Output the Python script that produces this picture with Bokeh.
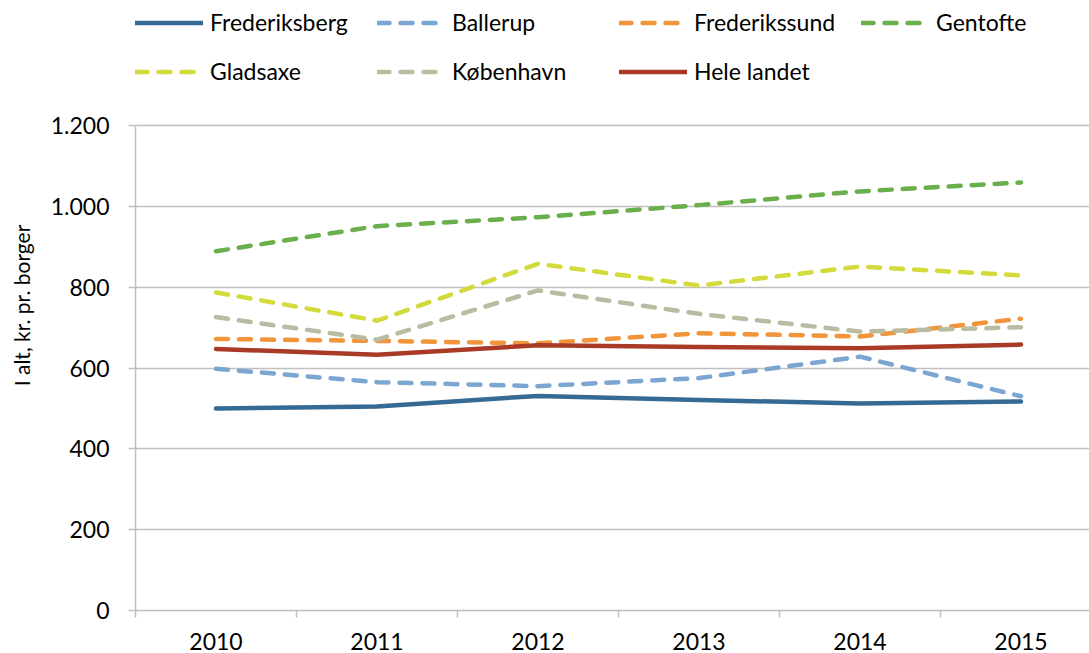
from bokeh.plotting import figure
from bokeh.models import Range1d, FixedTicker, Legend, LegendItem, ColumnDataSource
from bokeh.embed import file_html
from bokeh.resources import INLINE

years = ["2010", "2011", "2012", "2013", "2014", "2015"]
frederiksberg = [500, 505, 531, 521, 512, 517]
ballerup = [598, 565, 555, 575, 628, 530]
frederikssund = [672, 667, 661, 686, 678, 722]
gentofte = [889, 951, 973, 1003, 1037, 1059]
gladsaxe = [787, 717, 858, 804, 851, 829]
kobenhavn = [726, 670, 792, 734, 690, 701]
hele_landet = [647, 633, 656, 652, 649, 658]

series_names = ["Frederiksberg", "Ballerup", "Frederikssund", "Gentofte",
                "Gladsaxe", "København", "Hele landet"]
series_values = [frederiksberg, ballerup, frederikssund, gentofte,
                 gladsaxe, kobenhavn, hele_landet]
colors = ["#346a93", "#7ba6d1", "#f0953a", "#6aaf4b", "#d3da3c", "#b9bca3", "#a83a27"]
dashes = ["solid", "12 11", "12 11", "12 11", "12 11", "12 11", "solid"]

y_ticks = [0, 200, 400, 600, 800, 1000, 1200]
y_tick_labels = ["0", "200", "400", "600", "800", "1.000", "1.200"]

FONT = "Lato"
W, H = 1089, 653
LEFT, BOTTOM = 135, 43
FRAME_H = H - BOTTOM
PLOT_TOP_PX = 125  # pixel row of 1.200
Y_MAX = 1200
y_end = Y_MAX * FRAME_H / (FRAME_H - PLOT_TOP_PX)
CAT_W = 161
x_end = -0.5 + (W - LEFT) / CAT_W

ROW_H, ROW_GAP = 29, 20
LEGEND_H = 2 * ROW_H + ROW_GAP
LEGEND_TOP = 7.5

p = figure(width=W, height=H, output_backend="svg", toolbar_location=None,
           x_range=Range1d(-0.5, x_end), y_range=Range1d(0, y_end),
           min_border_left=LEFT, min_border_right=0, min_border_top=0,
           min_border_bottom=BOTTOM)
p.outline_line_color = None
p.background_fill_color = "white"
p.border_fill_color = "white"

xs = list(range(len(years)))
renderers = []
for name, vals, col, dash in zip(series_names, series_values, colors, dashes):
    src = ColumnDataSource(dict(x=xs, y=vals))
    r = p.line("x", "y", source=src, line_color=col, line_width=4.5,
               line_dash=dash, line_cap="round", line_join="round")
    renderers.append(r)

# x axis
p.xaxis.ticker = FixedTicker(ticks=xs, minor_ticks=[i - 0.5 for i in range(len(years) + 1)])
p.xaxis.major_label_overrides = {i: y for i, y in enumerate(years)}
p.xaxis.major_tick_out = 0
p.xaxis.major_tick_in = 0
p.xaxis.minor_tick_out = 7
p.xaxis.minor_tick_in = 0
p.xaxis.minor_tick_line_color = "#bfbfbf"
p.xaxis.minor_tick_line_width = 1.5
p.xaxis.axis_line_color = "#bfbfbf"
p.xaxis.axis_line_width = 1.5
p.xaxis.major_label_text_font = FONT
p.xaxis.major_label_text_font_size = "23px"
p.xaxis.major_label_text_color = "#000000"
p.xaxis.major_label_standoff = 15

# y axis
p.yaxis.bounds = (0, Y_MAX)
p.yaxis.ticker = FixedTicker(ticks=y_ticks, minor_ticks=[])
p.yaxis.major_label_overrides = {t: l for t, l in zip(y_ticks, y_tick_labels)}
p.yaxis.major_tick_out = 7
p.yaxis.major_tick_in = 0
p.yaxis.major_tick_line_color = "#bfbfbf"
p.yaxis.major_tick_line_width = 1.5
p.yaxis.axis_line_color = "#bfbfbf"
p.yaxis.axis_line_width = 1.5
p.yaxis.major_label_text_font = FONT
p.yaxis.major_label_text_font_size = "23px"
p.yaxis.major_label_text_color = "#000000"
p.yaxis.major_label_standoff = 19
p.yaxis.axis_label = "I alt, kr. pr. borger"
p.yaxis.axis_label_text_font = FONT
p.yaxis.axis_label_text_font_size = "21px"
p.yaxis.axis_label_text_font_style = "normal"
p.yaxis.axis_label_text_color = "#000000"
p.yaxis.axis_label_standoff = 14

p.xgrid.grid_line_color = None
p.ygrid.ticker = FixedTicker(ticks=y_ticks)
p.ygrid.grid_line_color = "#c0c0c0"
p.ygrid.grid_line_width = 1.5

legend = Legend(items=[LegendItem(label=n, renderers=[r]) for n, r in zip(series_names, renderers)],
                location=(0, FRAME_H - LEGEND_TOP - LEGEND_H), orientation="horizontal", ncols=4,
                glyph_width=68, glyph_height=ROW_H, label_height=ROW_H, label_width=147,
                label_standoff=7, spacing=ROW_GAP, padding=0, margin=0,
                border_line_alpha=0, background_fill_alpha=0,
                label_text_font=FONT, label_text_font_size="23px",
                label_text_color="#000000")
p.add_layout(legend, "center")

open("out.html", "w").write(file_html(p, INLINE))
